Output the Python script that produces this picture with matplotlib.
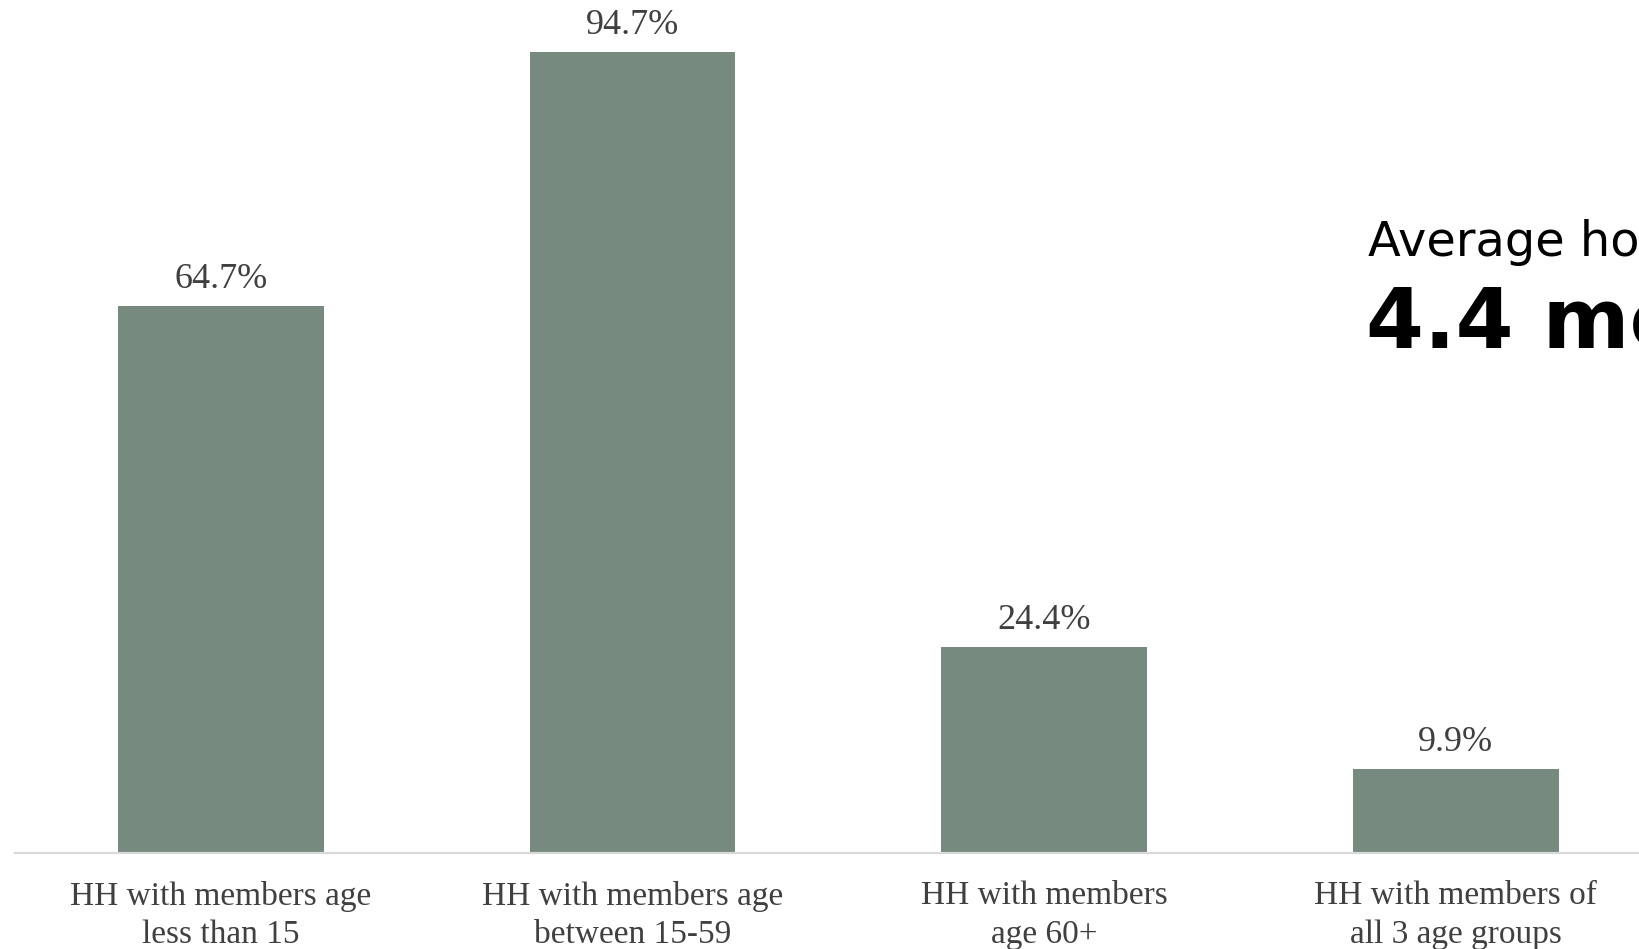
import numpy as np
from matplotlib import pyplot

#----------------------
# data
#----------------------
categories = ["HH with members age\nless than 15",
              "HH with members age\nbetween 15-59",
              "HH with members\nage 60+",
              "HH with members of\nall 3 age groups"]
values = [64.7, 94.7, 24.4, 9.9]
value_labels = ["64.7%", "94.7%", "24.4%", "9.9%"]

heading_1 = "Average household size"
heading_2 = "4.4 members"

bar_color = "#768a80"
text_color = "#404040"


def make_graph():
    fig = pyplot.figure(figsize=(16.39, 9.49), dpi=100)
    ax = fig.add_axes([0.00915, 0.1012, 0.99085, 0.891])

    x = np.arange(len(categories))
    ax.bar(x, values, width=0.5, color=bar_color)

    for i in range(len(values)):
        ax.annotate(value_labels[i], (x[i], values[i]), xytext=(0, 19), textcoords="offset points",
                    ha="center", va="center", fontsize=26, color=text_color, family="Liberation Serif")

    ax.set_xlim(-0.5, 3.445)
    ax.set_ylim(0, 100)
    ax.set_xticks(x)
    ax.set_xticklabels(categories, fontsize=24, color=text_color, family="Liberation Serif", linespacing=1.35)
    ax.tick_params(axis="x", length=0, pad=20)
    ax.set_yticks([])

    for s in ["top", "right", "left"]:
        ax.spines[s].set_visible(False)
    ax.spines["bottom"].set_color("#d9d9d9")
    ax.spines["bottom"].set_linewidth(1.6)

    # 右側の見出し (右端で切れている)
    fig.text(1368 / 1639, 1 - 256 / 949, heading_1, fontsize=34.5, color="black",
             family="DejaVu Sans", va="baseline", ha="left")
    fig.text(1366 / 1639, 1 - 348 / 949, heading_2, fontsize=60, color="black",
             family="DejaVu Sans", weight="bold", va="baseline", ha="left")

    fig.savefig("out.png", dpi=100)
    pyplot.close(fig)


if __name__ == "__main__":
    make_graph()
